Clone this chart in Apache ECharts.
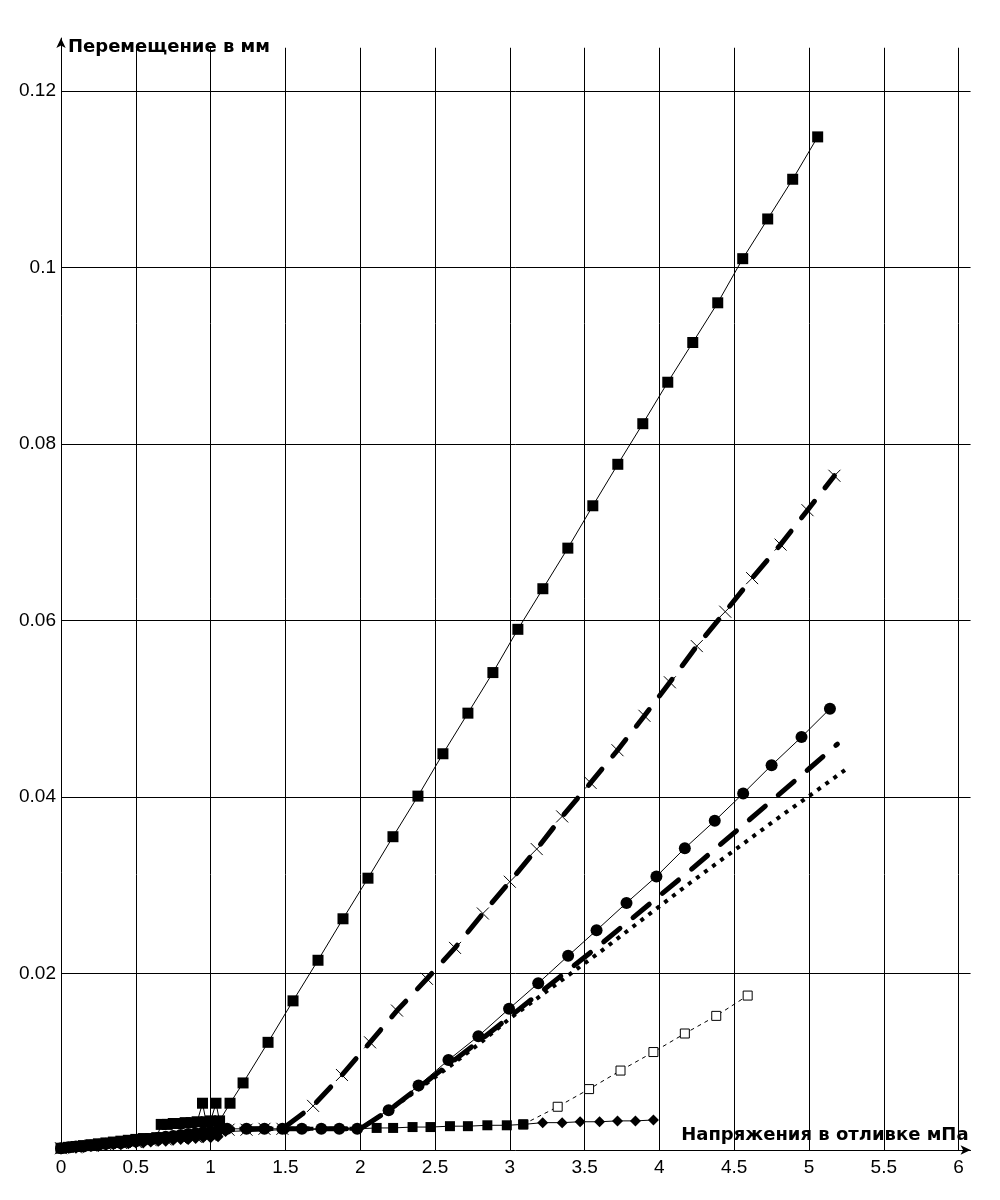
<!DOCTYPE html>
<html>
<head>
<meta charset="utf-8">
<script src="https://cdn.jsdelivr.net/npm/echarts@6/dist/echarts.min.js"></script>
<style>
html,body{margin:0;padding:0;background:#fff;}
#chart{width:1000px;height:1200px;}
</style>
</head>
<body>
<div id="chart"></div>
<script>
// ---- data (x: напряжение, мПа ; y: перемещение, мм) ----
const xTicks = [0, 0.5, 1, 1.5, 2, 2.5, 3, 3.5, 4, 4.5, 5, 5.5, 6];
const yTicks = [0.02, 0.04, 0.06, 0.08, 0.1, 0.12];

// filled squares, thin solid line
const squaresData = [
  [0,0.0002],[0.05,0.0003],[0.1,0.0004],[0.15,0.0005],[0.2,0.0006],[0.25,0.0007],[0.3,0.0008],
  [0.35,0.0009],[0.4,0.001],[0.45,0.0011],[0.5,0.0012],[0.55,0.0013],[0.6,0.0013],[0.64,0.0014],
  [0.67,0.0029],[0.71,0.0029],[0.75,0.003],[0.79,0.003],[0.83,0.0031],[0.87,0.0031],[0.91,0.0032],
  [0.946,0.0053],[0.97,0.0032],[1.0,0.0033],[1.036,0.0053],[1.06,0.0033],[1.13,0.0053],
  [1.217,0.0076],[1.384,0.0122],[1.551,0.0169],[1.718,0.0215],[1.885,0.0262],[2.052,0.0308],
  [2.219,0.0355],[2.386,0.0401],[2.553,0.0449],[2.72,0.0495],[2.887,0.0541],[3.054,0.059],
  [3.221,0.0636],[3.388,0.0682],[3.555,0.073],[3.722,0.0777],[3.889,0.0823],[4.056,0.087],
  [4.223,0.0915],[4.39,0.096],[4.557,0.101],[4.724,0.1055],[4.891,0.110],[5.058,0.1148]
];
// crosses, thick long-dashed line
const crossesData = [
  [0,0.0002],[0.1,0.0003],[0.2,0.0005],[0.3,0.0006],[0.4,0.0008],[0.5,0.0009],[0.6,0.0011],
  [0.7,0.0012],[0.8,0.0014],[0.9,0.0015],[1.0,0.0017],[1.12,0.0023],[1.24,0.0023],[1.36,0.0024],
  [1.48,0.0024],[1.685,0.005],[1.878,0.0085],[2.066,0.0122],[2.246,0.0158],[2.446,0.0194],
  [2.634,0.0229],[2.82,0.0268],[3.0,0.0304],[3.18,0.0341],[3.35,0.0378],[3.54,0.0416],
  [3.72,0.0453],[3.9,0.0492],[4.07,0.053],[4.25,0.0571],[4.44,0.061],[4.62,0.0648],
  [4.81,0.0686],[4.99,0.0725],[5.17,0.0764]
];
// filled circles, thin solid line
const circlesData = [
  [0,0.0002],[0.05,0.0003],[0.1,0.0004],[0.15,0.0004],[0.2,0.0005],[0.25,0.0006],[0.3,0.0007],
  [0.35,0.0008],[0.4,0.0008],[0.45,0.0009],[0.5,0.001],[0.55,0.0011],[0.6,0.0012],[0.65,0.0014],
  [0.7,0.0015],[0.75,0.0016],[0.8,0.0017],[0.85,0.0018],[0.9,0.0019],[0.95,0.002],[1.0,0.0021],
  [1.05,0.0023],[1.11,0.0024],[1.24,0.0024],[1.36,0.0024],[1.48,0.0024],[1.61,0.0024],
  [1.74,0.0024],[1.86,0.0024],[1.98,0.0024],[2.19,0.0045],[2.39,0.0073],[2.59,0.0102],
  [2.79,0.0129],[2.995,0.016],[3.19,0.0189],[3.39,0.022],[3.58,0.0249],[3.78,0.028],
  [3.98,0.031],[4.17,0.0342],[4.37,0.0373],[4.56,0.0404],[4.75,0.0436],[4.95,0.0468],[5.14,0.050]
];
// thick dashed line, no markers
const dashedData = [
  [0,0.0002],[1.0,0.0018],[1.1,0.0024],[2.0,0.0024],[2.2,0.0046],[2.4,0.0072],[2.6,0.0098],
  [2.8,0.0124],[3.0,0.0151],[3.2,0.0178],[3.4,0.0205],[3.6,0.0232],[3.8,0.026],[4.0,0.0288],
  [4.2,0.0316],[4.4,0.0345],[4.6,0.0374],[4.8,0.0403],[5.0,0.0432],[5.19,0.046]
];
// dotted line, no markers
const dottedData = [
  [0,0.0002],[1.0,0.0018],[1.1,0.0024],[2.0,0.0024],[2.2,0.0046],[2.4,0.007],[2.6,0.0095],
  [2.8,0.0121],[3.0,0.0149],[3.2,0.0174],[3.4,0.0199],[3.6,0.0224],[3.8,0.025],[4.0,0.0276],
  [4.2,0.0302],[4.4,0.0327],[4.6,0.0352],[4.8,0.0377],[5.0,0.0401],[5.26,0.0433]
];
// open squares, thin dashed line
const openSquaresData = [
  [3.09,0.0029],[3.32,0.0049],[3.53,0.0069],[3.74,0.009],[3.96,0.0111],[4.17,0.0132],
  [4.38,0.0152],[4.59,0.0175]
];
// diamonds (small squares between 2.1 and 3.1), thin solid line
const diamondsData = [
  [0,0.0001],[0.05,0.0002],[0.1,0.0002],[0.15,0.0003],[0.2,0.0004],[0.25,0.0004],[0.3,0.0005],
  [0.35,0.0006],[0.4,0.0006],[0.45,0.0007],[0.5,0.0008],[0.55,0.0008],[0.6,0.0009],[0.65,0.001],
  [0.7,0.001],[0.75,0.0011],[0.8,0.0012],[0.85,0.0012],[0.9,0.0013],[0.95,0.0014],[1.0,0.0014],
  [1.05,0.0015],[1.1,0.0021],[1.5,0.0023],[1.98,0.0024],
  [2.11,0.0025],[2.22,0.0025],[2.35,0.0026],[2.47,0.0026],[2.6,0.0027],[2.72,0.0027],
  [2.85,0.0028],[2.98,0.0028],[3.09,0.0029],[3.22,0.0031],[3.35,0.0031],[3.47,0.0032],
  [3.6,0.0032],[3.72,0.0033],[3.84,0.0033],[3.96,0.0034]
];

// ---- layout constants ----
const X_MAX = 6.08, Y_MAX = 0.126, GRID_TOP_VAL = 0.1249;
const PX_PER_X = 149.6, PX_PER_Y = 8825;
const LEFT = 61, BOTTOM_PX = 1150;

const gridLines = [];
xTicks.filter(v => v > 0).forEach(v => gridLines.push([{coord:[v,0]},{coord:[v,GRID_TOP_VAL]}]));
yTicks.forEach(v => gridLines.push([{coord:[0,v]},{coord:[X_MAX,v]}]));

const isStarred = v => v[0] > 2.05 && v[0] < 3.15;

const black = '#000';
const chart = echarts.init(document.getElementById('chart'), null, {renderer:'canvas'});
chart.setOption({
  animation:false,
  backgroundColor:'#fff',
  grid:{
    left:LEFT,
    top:BOTTOM_PX - Y_MAX*PX_PER_Y,
    width:X_MAX*PX_PER_X,
    height:Y_MAX*PX_PER_Y,
    containLabel:false
  },
  xAxis:{
    type:'value', min:0, max:X_MAX, interval:0.5,
    name:'Напряжения в отливке мПа',
    nameLocation:'end', nameGap:-2,
    nameTextStyle:{fontFamily:'DejaVu Sans', fontWeight:'bold', fontSize:18, color:black,
      align:'right', verticalAlign:'bottom', padding:[0,0,6,0]},
    axisLine:{show:true, onZero:true, symbol:['none','arrow'], symbolSize:[7,10],
      lineStyle:{color:black, width:1}},
    axisTick:{show:false},
    splitLine:{show:false},
    axisLabel:{show:true, showMaxLabel:false, margin:8, color:black,
      fontFamily:'Liberation Sans', fontSize:19,
      formatter:v => String(v)}
  },
  yAxis:{
    type:'value', min:0, max:Y_MAX, interval:0.02,
    name:'Перемещение в мм',
    nameLocation:'end', nameGap:-9,
    nameTextStyle:{fontFamily:'DejaVu Sans', fontWeight:'bold', fontSize:18, color:black,
      align:'left', verticalAlign:'middle', padding:[0,0,0,7]},
    axisLine:{show:true, symbol:['none','arrow'], symbolSize:[7,10],
      lineStyle:{color:black, width:1}},
    axisTick:{show:false},
    splitLine:{show:false},
    axisLabel:{show:true, showMinLabel:false, showMaxLabel:false, margin:5, color:black,
      fontFamily:'Liberation Sans', fontSize:19,
      formatter:v => String(+v.toFixed(4))}
  },
  series:[
    { type:'line', name:'grid', data:[[0,0]], symbol:'none', lineStyle:{width:0}, z:1, silent:true,
      markLine:{silent:true, symbol:['none','none'], label:{show:false}, animation:false,
        lineStyle:{color:black, width:1, type:'solid'}, emphasis:{disabled:true}, data:gridLines} },
    { type:'line', name:'dashed', data:dashedData, symbol:'none', z:2,
      lineStyle:{color:black, width:5, type:[21,17], cap:'round'} },
    { type:'line', name:'dotted', data:dottedData, symbol:'none', z:2,
      lineStyle:{color:black, width:4, type:[4,6], cap:'butt'} },
    { type:'line', name:'crosses', data:crossesData, z:3, showAllSymbol:true,
      symbol:'path://M0,0L10,10M10,0L0,10', symbolSize:12,
      itemStyle:{color:'none', borderColor:black, borderWidth:1},
      lineStyle:{color:black, width:5, type:[21,17], cap:'round'} },
    { type:'line', name:'circles', data:circlesData, z:4, showAllSymbol:true,
      symbol:'circle', symbolSize:12,
      itemStyle:{color:black, borderWidth:0},
      lineStyle:{color:black, width:1} },
    { type:'line', name:'squares', data:squaresData, z:5, showAllSymbol:true,
      symbol:'rect', symbolSize:11,
      itemStyle:{color:black, borderWidth:0},
      lineStyle:{color:black, width:1} },
    { type:'line', name:'open', data:openSquaresData, z:6, showAllSymbol:true,
      symbol:'rect', symbolSize:9,
      itemStyle:{color:'#fff', borderColor:black, borderWidth:1},
      lineStyle:{color:black, width:1, type:[4,4]} },
    { type:'line', name:'diamonds', data:diamondsData, z:7, showAllSymbol:true,
      symbol:v => isStarred(v) ? 'rect' : 'diamond',
      symbolSize:v => isStarred(v) ? 10 : 11,
      itemStyle:{color:black, borderWidth:0},
      lineStyle:{color:black, width:1} }
  ]
});
</script>
</body>
</html>
